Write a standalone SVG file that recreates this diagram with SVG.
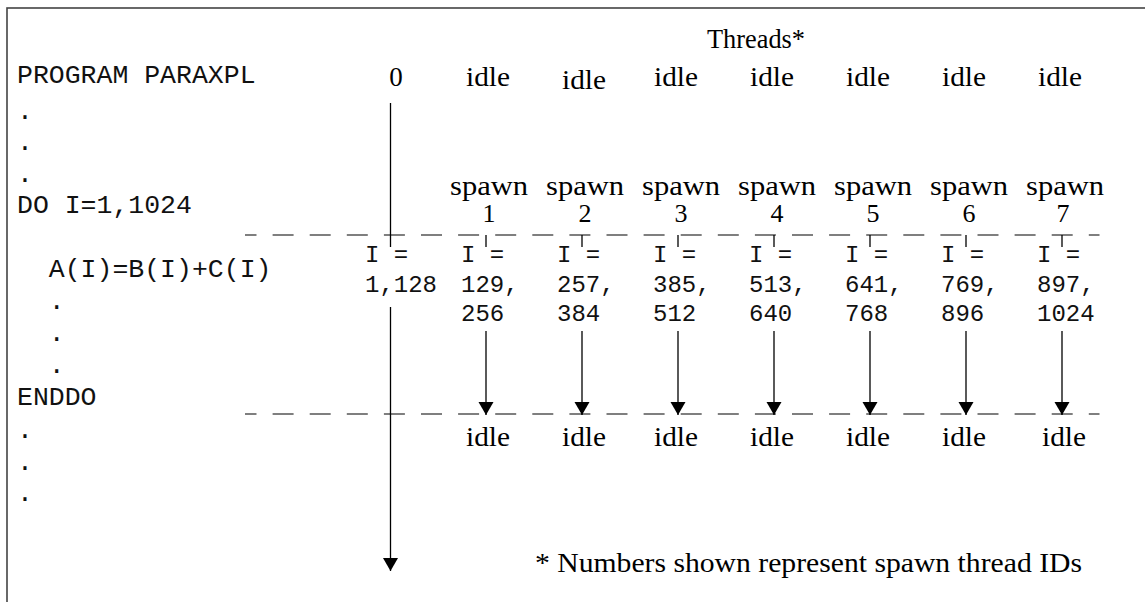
<svg xmlns="http://www.w3.org/2000/svg" width="1145" height="602" viewBox="0 0 1145 602">
<style>
.code{font-family:"Liberation Mono",monospace;font-size:26.5px;fill:#111;white-space:pre}
.col{font-family:"Liberation Mono",monospace;font-size:24px;fill:#111}
.ser{font-family:"Liberation Serif",serif;font-size:27px;fill:#000}
.num{font-family:"Liberation Serif",serif;font-size:26px;fill:#000}
.mid{text-anchor:middle}
.dash{stroke:#555;stroke-width:1.6;stroke-dasharray:21 16.1;fill:none}
.thr{stroke:#000;stroke-width:1.3;fill:none}
</style>
<defs>
<marker id="ah" markerUnits="userSpaceOnUse" markerWidth="14" markerHeight="16" refX="13" refY="7.5" orient="auto">
<path d="M0,0 L13,7.5 L0,15 z" fill="#000"/>
</marker>
</defs>
<rect x="7" y="8" width="1150" height="610" fill="#fff" stroke="#444" stroke-width="1.6"/>
<g id="program">
<text class="code" x="17" y="83">PROGRAM PARAXPL</text>
<text class="code" x="17" y="119">.</text>
<text class="code" x="17" y="150">.</text>
<text class="code" x="17" y="182">.</text>
<text class="code" x="17" y="213">DO I=1,1024</text>
<text class="code" x="17" y="277" xml:space="preserve">  A(I)=B(I)+C(I)</text>
<text class="code" x="17" y="309" xml:space="preserve">  .</text>
<text class="code" x="17" y="341" xml:space="preserve">  .</text>
<text class="code" x="17" y="373" xml:space="preserve">  .</text>
<text class="code" x="17" y="405">ENDDO</text>
<text class="code" x="17" y="438">.</text>
<text class="code" x="17" y="470">.</text>
<text class="code" x="17" y="501">.</text>
</g>
<g id="header">
<text class="ser" x="707" y="48" textLength="98" lengthAdjust="spacingAndGlyphs">Threads*</text>
</g>
<g id="connectors">
<line class="dash" x1="245" y1="235" x2="1099.5" y2="235" stroke-dashoffset="9.5"/>
<line class="dash" x1="245" y1="414" x2="1099.5" y2="414" stroke-dashoffset="9.5"/>
<line class="thr" x1="390.5" y1="103" x2="390.5" y2="247"/>
<line class="thr" x1="390.5" y1="307" x2="390.5" y2="571" marker-end="url(#ah)"/>
<line class="thr" x1="486" y1="235" x2="486" y2="247"/>
<line class="thr" x1="582" y1="235" x2="582" y2="247"/>
<line class="thr" x1="678" y1="235" x2="678" y2="247"/>
<line class="thr" x1="774" y1="235" x2="774" y2="247"/>
<line class="thr" x1="870" y1="235" x2="870" y2="247"/>
<line class="thr" x1="966" y1="235" x2="966" y2="247"/>
<line class="thr" x1="1062" y1="235" x2="1062" y2="247"/>
<line class="thr" x1="486" y1="331" x2="486" y2="415" marker-end="url(#ah)"/>
<line class="thr" x1="582" y1="331" x2="582" y2="415" marker-end="url(#ah)"/>
<line class="thr" x1="678" y1="331" x2="678" y2="415" marker-end="url(#ah)"/>
<line class="thr" x1="774" y1="331" x2="774" y2="415" marker-end="url(#ah)"/>
<line class="thr" x1="870" y1="331" x2="870" y2="415" marker-end="url(#ah)"/>
<line class="thr" x1="966" y1="331" x2="966" y2="415" marker-end="url(#ah)"/>
<line class="thr" x1="1062" y1="331" x2="1062" y2="415" marker-end="url(#ah)"/>
</g>
<g id="thread0">
<text class="ser mid" x="396" y="86">0</text>
<text class="col" x="365" y="262">I =</text>
<text class="col" x="365" y="292">1,128</text>
</g>
<g id="thread1">
<text class="ser mid" x="488" y="86" textLength="44" lengthAdjust="spacingAndGlyphs">idle</text>
<text class="ser mid" x="489" y="195" textLength="78" lengthAdjust="spacingAndGlyphs">spawn</text>
<text class="num mid" x="489" y="222">1</text>
<text class="col" x="461" y="262">I =</text>
<text class="col" x="461" y="292">129,</text>
<text class="col" x="461" y="321">256</text>
<text class="ser mid" x="488" y="446" textLength="44" lengthAdjust="spacingAndGlyphs">idle</text>
</g>
<g id="thread2">
<text class="ser mid" x="584" y="89" textLength="44" lengthAdjust="spacingAndGlyphs">idle</text>
<text class="ser mid" x="585" y="195" textLength="78" lengthAdjust="spacingAndGlyphs">spawn</text>
<text class="num mid" x="585" y="222">2</text>
<text class="col" x="557" y="262">I =</text>
<text class="col" x="557" y="292">257,</text>
<text class="col" x="557" y="321">384</text>
<text class="ser mid" x="584" y="446" textLength="44" lengthAdjust="spacingAndGlyphs">idle</text>
</g>
<g id="thread3">
<text class="ser mid" x="676" y="86" textLength="44" lengthAdjust="spacingAndGlyphs">idle</text>
<text class="ser mid" x="681" y="195" textLength="78" lengthAdjust="spacingAndGlyphs">spawn</text>
<text class="num mid" x="681" y="222">3</text>
<text class="col" x="653" y="262">I =</text>
<text class="col" x="653" y="292">385,</text>
<text class="col" x="653" y="321">512</text>
<text class="ser mid" x="676" y="446" textLength="44" lengthAdjust="spacingAndGlyphs">idle</text>
</g>
<g id="thread4">
<text class="ser mid" x="772" y="86" textLength="44" lengthAdjust="spacingAndGlyphs">idle</text>
<text class="ser mid" x="777" y="195" textLength="78" lengthAdjust="spacingAndGlyphs">spawn</text>
<text class="num mid" x="777" y="222">4</text>
<text class="col" x="749" y="262">I =</text>
<text class="col" x="749" y="292">513,</text>
<text class="col" x="749" y="321">640</text>
<text class="ser mid" x="772" y="446" textLength="44" lengthAdjust="spacingAndGlyphs">idle</text>
</g>
<g id="thread5">
<text class="ser mid" x="868" y="86" textLength="44" lengthAdjust="spacingAndGlyphs">idle</text>
<text class="ser mid" x="873" y="195" textLength="78" lengthAdjust="spacingAndGlyphs">spawn</text>
<text class="num mid" x="873" y="222">5</text>
<text class="col" x="845" y="262">I =</text>
<text class="col" x="845" y="292">641,</text>
<text class="col" x="845" y="321">768</text>
<text class="ser mid" x="868" y="446" textLength="44" lengthAdjust="spacingAndGlyphs">idle</text>
</g>
<g id="thread6">
<text class="ser mid" x="964" y="86" textLength="44" lengthAdjust="spacingAndGlyphs">idle</text>
<text class="ser mid" x="969" y="195" textLength="78" lengthAdjust="spacingAndGlyphs">spawn</text>
<text class="num mid" x="969" y="222">6</text>
<text class="col" x="941" y="262">I =</text>
<text class="col" x="941" y="292">769,</text>
<text class="col" x="941" y="321">896</text>
<text class="ser mid" x="964" y="446" textLength="44" lengthAdjust="spacingAndGlyphs">idle</text>
</g>
<g id="thread7">
<text class="ser mid" x="1060" y="86" textLength="44" lengthAdjust="spacingAndGlyphs">idle</text>
<text class="ser mid" x="1065" y="195" textLength="78" lengthAdjust="spacingAndGlyphs">spawn</text>
<text class="num mid" x="1063" y="222">7</text>
<text class="col" x="1037" y="262">I =</text>
<text class="col" x="1037" y="292">897,</text>
<text class="col" x="1037" y="321">1024</text>
<text class="ser mid" x="1064" y="446" textLength="44" lengthAdjust="spacingAndGlyphs">idle</text>
</g>
<g id="footnote">
<text class="ser" x="535" y="572" textLength="547" lengthAdjust="spacingAndGlyphs">* Numbers shown represent spawn thread IDs</text>
</g>
</svg>
